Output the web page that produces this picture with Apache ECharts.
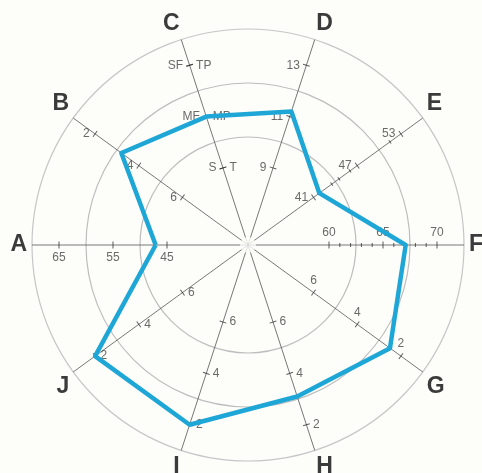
<!DOCTYPE html>
<html>
<head>
<meta charset="utf-8">
<script src="https://cdn.jsdelivr.net/npm/echarts@6/dist/echarts.min.js"></script>
<style>
    html, body { margin: 0; padding: 0; background: #fdfdfa; }
    #chart { width: 482px; height: 473px; }
</style>
</head>
<body>
<div id="chart"></div>
<script>
const axisNames = ["A", "B", "C", "D", "E", "F", "G", "H", "I", "J"];
// value of each axis at the centre and at the outer ring
const axisMin = [30, 9, -0.5, 6, 32, 52.5, 9, 9, 9, 9];
const axisMax = [70, 1, 3.5, 14, 56, 72.5, 1, 1, 1, 1];
const values = [47.1, 3.2, 2, 11.2, 41.8, 67.1, 2.5, 3.1, 2, 2];
const tickValues = [
    [45, 55, 65], [6, 4, 2], [1, 2, 3], [9, 11, 13], [41, 47, 53],
    [60, 65, 70], [6, 4, 2], [6, 4, 2], [6, 4, 2], [6, 4, 2]
];
const cLabelsLeft = ["S", "MF", "SF"];
const cLabelsRight = ["T", "MP", "TP"];
const minorTicks = [[], [], [], [], [43.5, 44.5, 46, 51.5], [61, 62, 63, 64, 66, 67, 68, 69], [], [], [], []];

const ringMax = 4;
const bg = "#fdfdfa";
const labelSide = ["bottom", "left", null, "left", "left", "top", "top", "right", "right", "right"];

function angleOf(i) {
    return (180 - 36 * i + 360) % 360;
}

function radiusOf(i, v) {
    return ringMax * (v - axisMin[i]) / (axisMax[i] - axisMin[i]);
}

const nameAt = {};
axisNames.forEach((n, i) => { nameAt[angleOf(i)] = n; });

function tickItem(i, v, text, side) {
    return {
        value: [radiusOf(i, v), angleOf(i)],
        symbolRotate: angleOf(i),
        label: { show: !!text, formatter: text || "", position: side, distance: 3 }
    };
}

const majorData = [];
tickValues.forEach((list, i) => {
    list.forEach((v, k) => {
        if ( i === 2 ) {
            majorData.push(tickItem(i, v, cLabelsLeft[k], "left"));
            majorData.push(tickItem(i, v, cLabelsRight[k], "right"));
        } else {
            majorData.push(tickItem(i, v, String(v), labelSide[i]));
        }
    });
});

const minorData = [];
minorTicks.forEach((list, i) => {
    list.forEach(v => minorData.push(tickItem(i, v, null, "top")));
});

const lineData = values.map((v, i) => [radiusOf(i, v), angleOf(i)]);
lineData.push(lineData[0]);

const chart = echarts.init(document.getElementById("chart"));

chart.setOption({
    backgroundColor: bg,
    animation: false,
    polar: {
        center: [248, 245],
        radius: 216
    },
    angleAxis: {
        type: "value",
        min: 0,
        max: 360,
        interval: 36,
        startAngle: 0,
        clockwise: false,
        axisLine: { show: false },
        axisTick: { show: false },
        axisLabel: {
            margin: 5,
            fontSize: 23,
            fontWeight: "bold",
            fontFamily: "Liberation Sans, Arial, sans-serif",
            color: "#3b3b3b",
            formatter: v => nameAt[Math.round(v)] || ""
        },
        splitLine: { lineStyle: { color: "#555", width: 0.8 } }
    },
    radiusAxis: {
        type: "value",
        min: 0,
        max: ringMax,
        interval: 1,
        axisLine: { show: false },
        axisTick: { show: false },
        axisLabel: { show: false },
        splitLine: {
            lineStyle: {
                color: ["rgba(0,0,0,0)", "rgba(0,0,0,0)", "#bdbdbd", "#bdbdbd", "#c6c6c6"],
                width: 1.2
            }
        }
    },
    series: [
        {
            type: "scatter",
            coordinateSystem: "polar",
            symbol: "circle",
            symbolSize: 16,
            itemStyle: { color: bg },
            silent: true,
            data: [[0, 0]],
            z: 2
        },
        {
            type: "scatter",
            coordinateSystem: "polar",
            symbol: "rect",
            symbolSize: [1, 4],
            itemStyle: { color: "#333" },
            data: minorData,
            z: 3
        },
        {
            type: "scatter",
            coordinateSystem: "polar",
            symbol: "rect",
            symbolSize: [1, 7],
            itemStyle: { color: "#333" },
            label: {
                fontSize: 12,
                fontFamily: "Liberation Sans, Arial, sans-serif",
                color: "#444"
            },
            data: majorData,
            z: 3
        },
        {
            type: "line",
            coordinateSystem: "polar",
            showSymbol: false,
            data: lineData,
            lineStyle: { color: "#1ea7d6", width: 4.5, join: "round" },
            z: 4
        }
    ]
});
</script>
</body>
</html>
